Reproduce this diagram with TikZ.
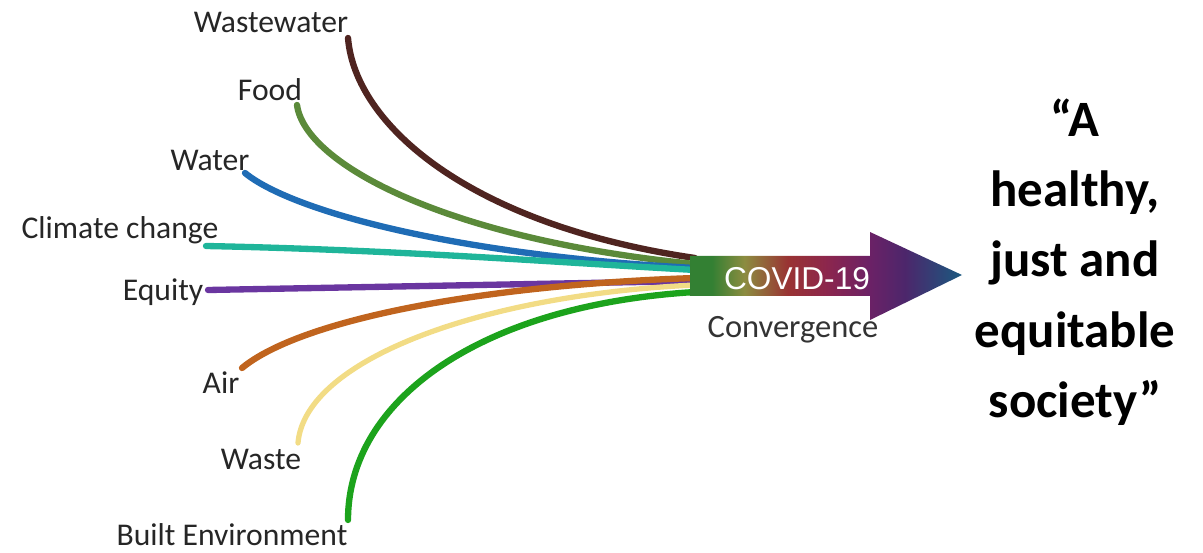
\documentclass[tikz,border=0pt]{standalone}
\usepackage{fontspec}
\setmainfont{Carlito}
\newfontfamily\arialfont{Liberation Sans}
\usetikzlibrary{positioning}

\definecolor{cWastewater}{HTML}{4F2420}
\definecolor{cFood}{HTML}{5B8A3A}
\definecolor{cWater}{HTML}{1F6CB5}
\definecolor{cClimate}{HTML}{1FB59A}
\definecolor{cEquity}{HTML}{6A36A0}
\definecolor{cAir}{HTML}{C0641E}
\definecolor{cWaste}{HTML}{F2DC85}
\definecolor{cBuilt}{HTML}{1CA31C}
\definecolor{cvA}{rgb}{0.20,0.50,0.20}
\definecolor{cvB}{rgb}{0.55,0.55,0.25}
\definecolor{cvC}{rgb}{0.60,0.20,0.20}
\definecolor{cvD}{rgb}{0.55,0.15,0.30}
\definecolor{cvE}{rgb}{0.42,0.13,0.40}
\definecolor{cvF}{rgb}{0.30,0.15,0.42}
\definecolor{cvG}{rgb}{0.10,0.35,0.50}
\pgfdeclarehorizontalshading{covid}{100bp}{color(0bp)=(cvA); color(29bp)=(cvA);
  color(35bp)=(cvB); color(43bp)=(cvC); color(50bp)=(cvD); color(58bp)=(cvE);
  color(64.5bp)=(cvF); color(75bp)=(cvG); color(100bp)=(cvG)}

\begin{document}
\begin{tikzpicture}[
  x=0.02cm, y=-0.02cm,
  lbl/.style={font=\fontsize{18}{20}\selectfont, text=black!85, inner sep=0pt},
  strand/.style={line width=3.6pt, line cap=round},
  goal/.style={font=\fontsize{29}{40}\selectfont\bfseries, align=center, inner sep=0pt}
]
\useasboundingbox (0,0) rectangle (1203,553);

% labels
\node[lbl] (ww)  at (271,22)  {Wastewater};
\node[lbl] (food) at (270,90) {Food};
\node[lbl] (wat) at (210,160) {Water};
\node[lbl] (clim) at (120,230) {Climate change};
\node[lbl] (eq)  at (163,292) {Equity};
\node[lbl] (air) at (221,383) {Air};
\node[lbl] (wst) at (261,459) {Waste};
\node[lbl] (be)  at (232,535) {Built Environment};

% strand start points
\coordinate (ww-s)   at (348,38);
\coordinate (food-s) at (297,105);
\coordinate (wat-s)  at (245,173);
\coordinate (clim-s) at (206,246);
\coordinate (eq-s)   at (208,290);
\coordinate (air-s)  at (242,368);
\coordinate (wst-s)  at (298,443);
\coordinate (be-s)   at (348,520);

% strands
\draw[strand, cWastewater] (ww-s) .. controls (355,125) and (470,225) .. (695,258);
\draw[strand, cFood] (food-s) .. controls (305,165) and (450,240) .. (695,264);
\draw[strand, cWater] (wat-s) .. controls (290,210) and (450,255) .. (695,268);
\draw[strand, cClimate] (clim-s) .. controls (400,250) and (550,262) .. (695,270);
\draw[strand, cEquity] (eq-s) -- (695,281);
\draw[strand, cAir] (air-s) .. controls (300,320) and (480,285) .. (695,278);
\draw[strand, cWaste, line width=3pt] (wst-s) .. controls (305,360) and (480,295) .. (695,285);
\draw[strand, cBuilt] (be-s) .. controls (348,400) and (480,305) .. (695,292);

% convergence arrow
\path[shading=covid] (690,256) -- (870,256) -- (870,232) -- (962,275)
  -- (870,320) -- (870,296) -- (690,296) -- cycle;
\node[font=\arialfont\fontsize{18}{20}\selectfont, text=white, inner sep=0pt] (cov) at (797,279) {COVID-19};
\node[font=\fontsize{18.5}{20}\selectfont, text=black!80, inner sep=0pt] (conv) at (793,330) {Convergence};

\node[goal] (soc) at (1075,262) {``A\\healthy,\\just and\\equitable\\society''};
\end{tikzpicture}
\end{document}
